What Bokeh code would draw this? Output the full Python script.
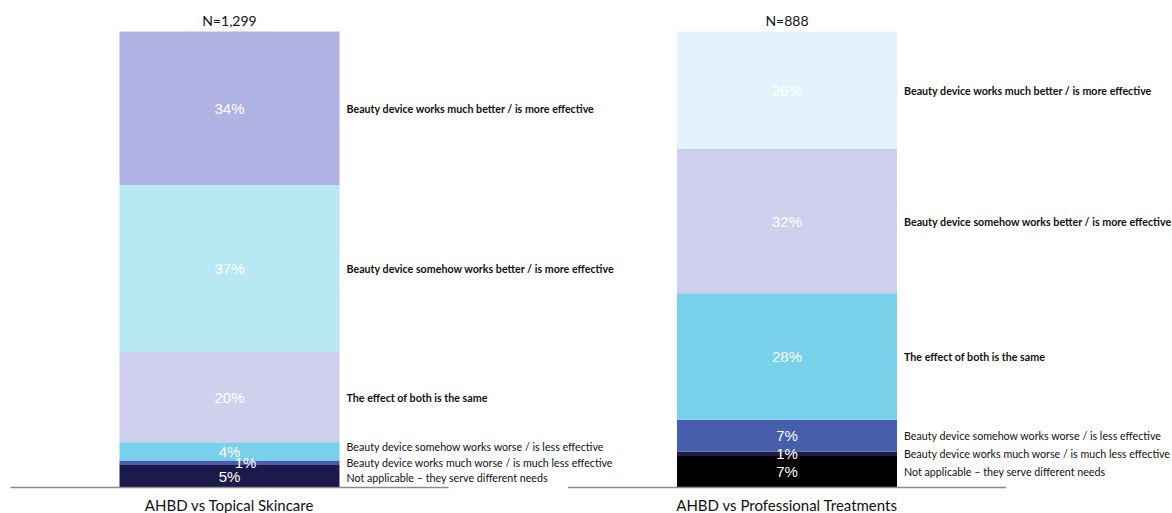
from bokeh.plotting import figure
from bokeh.models import Range1d, ColumnDataSource
from bokeh.core.properties import value
from bokeh.embed import file_html
from bokeh.resources import INLINE

# ---- data ----
groups = ["AHBD vs Topical Skincare", "AHBD vs Professional Treatments"]
sample_sizes = ["N=1,299", "N=888"]
categories = [  # bottom -> top
    "Not applicable \u2013 they serve different needs",
    "Beauty device works much worse / is much less effective",
    "Beauty device somehow works worse / is less effective",
    "The effect of both is the same",
    "Beauty device somehow works better / is more effective",
    "Beauty device works much better / is more effective",
]
topical = [5, 1, 4, 20, 37, 34]
professional = [7, 1, 7, 28, 32, 26]
series = [topical, professional]
colors_topical = ["#1B1A4A", "#4B5DAA", "#79D0EA", "#CFCFEE", "#B9E8F5", "#B0B2E4"]
colors_professional = ["#000000", "#1B1A4A", "#465EAC", "#79D0EA", "#CFCFEE", "#E2F3FB"]
palettes = [colors_topical, colors_professional]
bold_flags = [False, False, False, True, True, True]

# ---- layout constants (pixels) ----
W, H = 1172, 513
BASE_PX = 487          # pixel row of the zero line
TOP_PX = 31            # pixel row of the 101% top
CENTER0_PX = 229       # centre of first bar
STEP_PX = 557.5        # distance between bar centres
BAR_W_PX = 220

total = sum(topical)
PX = (BASE_PX - TOP_PX) / total  # pixels per percent unit
y_start = -(H - BASE_PX) / PX
y_end = BASE_PX / PX
x_start = -CENTER0_PX / STEP_PX
x_end = (W - CENTER0_PX) / STEP_PX

def dx(px):
    return px / STEP_PX

def dy(px):
    return px / PX

p = figure(width=W, height=H, x_range=Range1d(x_start, x_end), y_range=Range1d(y_start, y_end),
           output_backend="svg", toolbar_location=None, min_border=0,
           x_axis_type=None, y_axis_type=None)
p.grid.visible = False
p.outline_line_color = None
p.background_fill_color = "white"
p.border_fill_color = "white"

bar_w = dx(BAR_W_PX)
label_font = value("Liberation Sans")
lato = value("Lato")

for gi, vals in enumerate(series):
    bottoms, tops = [], []
    acc = 0
    for v in vals:
        bottoms.append(acc)
        acc += v
        tops.append(acc)
    src = ColumnDataSource(dict(x=[gi] * len(vals), bottom=bottoms, top=tops, color=palettes[gi]))
    p.vbar(x="x", bottom="bottom", top="top", width=bar_w, fill_color="color", line_color=None, source=src)

    # baseline
    p.segment(x0=[gi - dx(219)], x1=[gi + dx(219)], y0=[0], y1=[0], line_color="#8C8C8C", line_width=1.5)

    # percentage labels
    centers = [(b + t) / 2 for b, t in zip(bottoms, tops)]
    xs = [gi] * len(vals)
    if gi == 0:
        xs[1] = gi + dx(16)  # the tiny 1% label is nudged sideways
    p.text(x=xs, y=centers, text=[f"{v}%" for v in vals], text_color="white",
           text_font=label_font, text_font_size="15px", text_align="center", text_baseline="middle")

    # category labels (spread out to avoid overlap)
    ly = list(centers)
    min_gap = dy(15.5)
    ly[0] = centers[0] - dy(1.5) if gi == 0 else centers[0]
    for i in range(1, 3):
        if ly[i] - ly[i - 1] < min_gap:
            ly[i] = ly[i - 1] + min_gap
    lx = gi + dx(117)
    for i, cat in enumerate(categories):
        p.text(x=[lx], y=[ly[i]], text=[cat], text_color="#111111", text_font=lato,
               text_font_size="10.7px", text_font_style="bold" if bold_flags[i] else "normal",
               text_align="left", text_baseline="middle")

    # sample size on top
    p.text(x=[gi], y=[total + dy(11)], text=[sample_sizes[gi]], text_color="#111111", text_font=lato,
           text_font_size="14px", text_align="center", text_baseline="middle")
    # group label below
    p.text(x=[gi], y=[-dy(17.5)], text=[groups[gi]], text_color="#111111", text_font=lato,
           text_font_size="15px", text_align="center", text_baseline="middle")

open("out.html", "w").write(file_html(p, INLINE))
